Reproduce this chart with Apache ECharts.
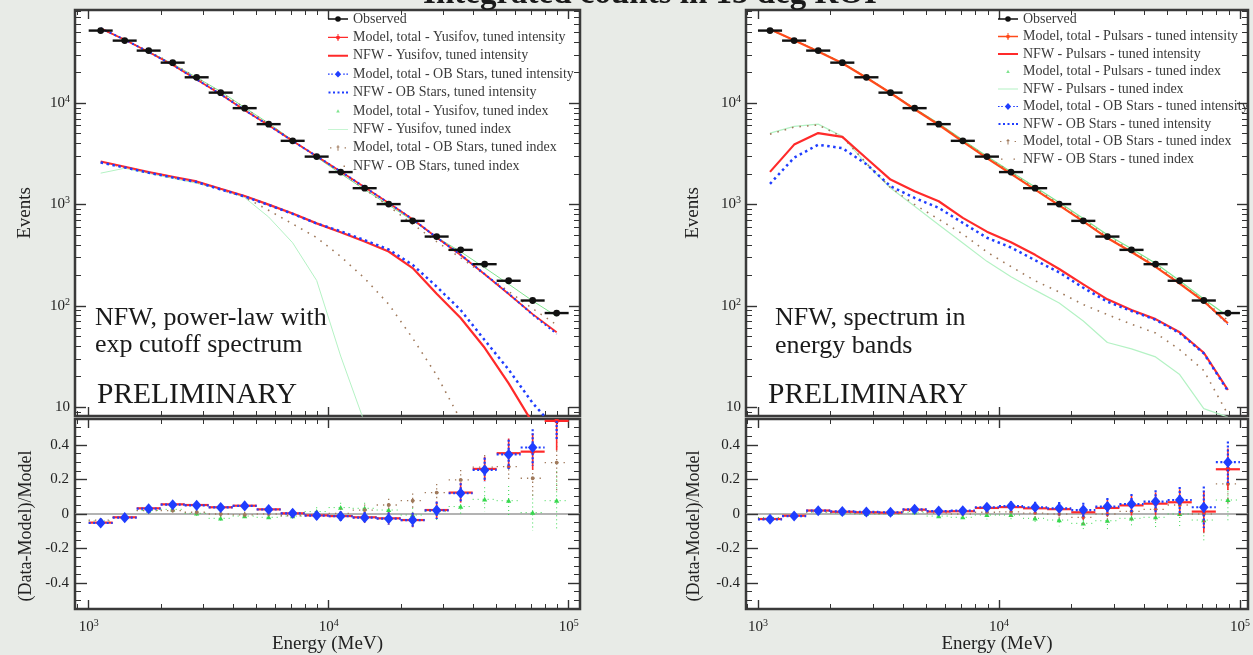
<!DOCTYPE html>
<html>
<head>
<meta charset="utf-8">
<script src="https://cdn.jsdelivr.net/npm/echarts@6.0.0/dist/echarts.min.js"></script>
<style>
html,body{margin:0;padding:0;background:#e8ebe7;}
#chart{width:1253px;height:655px;}
</style>
</head>
<body>
<div id="chart"></div>
<script>
// ---------------- data ----------------
const binEdges = [1000, 1259, 1585, 1995, 2512, 3162, 3981, 5012, 6310, 7943, 10000, 12589, 15849, 19953, 25119, 31623, 39811, 50119, 63096, 79433, 100000];
const binCenters = [1122, 1413, 1778, 2239, 2818, 3548, 4467, 5623, 7079, 8913, 11220, 14125, 17783, 22387, 28184, 35481, 44668, 56234, 70795, 89125];
const observed = [52000, 41400, 33000, 25100, 18000, 12700, 8930, 6210, 4250, 2970, 2090, 1450, 1010, 690, 483, 357, 258, 177, 113, 85];

// left panel: NFW, power-law with exp cutoff
const nfwYusInt = [2655, 2360, 2095, 1880, 1690, 1430, 1215, 998, 817, 652, 533, 431, 344, 236, 132, 76, 38.6, 17.2, 7, 3];
const nfwOBInt  = [2600, 2320, 2060, 1850, 1665, 1410, 1200, 990, 810, 650, 545, 445, 360, 254, 155, 91, 46, 23.5, 11, 6];
const nfwYusIdx = [2040, 2280, 2030, 1810, 1620, 1415, 1172, 753, 419, 178, 32, 7, null, null, null, null, null, null, null, null];
const nfwOBIdx  = [2600, 2330, 2070, 1850, 1660, 1400, 1180, 877, 644, 472, 307, 187, 104, 48, 20.7, 7.5, null, null, null, null];
const modYusInt = [54740, 42200, 31950, 23770, 17110, 12220, 8520, 6050, 4230, 2990, 2115, 1478, 1036, 715, 472, 318, 205, 131, 83, 55];
const modOBInt  = [54850, 42290, 32000, 23810, 17140, 12230, 8530, 6050, 4230, 2995, 2118, 1480, 1038, 715, 473, 319, 206, 132, 82, 53];
const modYusIdx = [54170, 42240, 32350, 24440, 17930, 13030, 9040, 6330, 4300, 2930, 2015, 1404, 987, 694, 476, 342, 238, 164, 112, 79];
const modOBIdx  = [53890, 42240, 32350, 24610, 17820, 12700, 8975, 6210, 4290, 2985, 2082, 1417, 960, 641, 430, 298, 203, 139, 94, 65];
const resYusInt = [-0.050, -0.019, 0.033, 0.056, 0.052, 0.039, 0.048, 0.027, 0.004, -0.008, -0.012, -0.019, -0.025, -0.035, 0.023, 0.124, 0.261, 0.352, 0.361, 0.539];
const resOBInt  = [-0.052, -0.021, 0.031, 0.054, 0.050, 0.038, 0.047, 0.026, 0.004, -0.009, -0.013, -0.021, -0.027, -0.035, 0.021, 0.120, 0.255, 0.345, 0.385, 0.60];
const resYusIdx = [-0.04, -0.02, 0.02, 0.027, 0.004, -0.025, -0.012, -0.019, -0.012, 0.014, 0.037, 0.033, 0.023, -0.006, 0.014, 0.043, 0.085, 0.077, 0.008, 0.077];
const resOBIdx  = [-0.035, -0.02, 0.02, 0.02, 0.01, 0.0, -0.005, 0.0, -0.01, -0.005, 0.004, 0.023, 0.052, 0.077, 0.124, 0.197, 0.271, 0.274, 0.207, 0.298];
const errLeft   = [0.012, 0.012, 0.013, 0.014, 0.015, 0.016, 0.018, 0.02, 0.022, 0.025, 0.028, 0.032, 0.036, 0.042, 0.05, 0.058, 0.07, 0.085, 0.105, 0.17];

// right panel: NFW, spectrum in energy bands
const nfwPulInt  = [2100, 3900, 5070, 4650, 2860, 1762, 1352, 1077, 738, 540, 424, 319, 231, 163, 116, 91, 74, 55, 34.5, 14.8];
const nfwOBIntR  = [1600, 2900, 3890, 3600, 2500, 1514, 1162, 927, 659, 470, 377, 282, 214, 151, 110, 89, 73, 54, 34, 14.5];
const nfwPulIdx  = [5070, 5900, 6210, 4700, 2520, 1457, 961, 631, 418, 275, 194, 143, 107, 71, 43.5, 37.7, 31.4, 21, 9.7, 8];
const nfwOBIdxR  = [4950, 5800, 6100, 4650, 2560, 1470, 1000, 716, 511, 340, 244, 177, 137, 103, 82, 66, 54, 37, 23, 8.5];
const modPulInt  = [53550, 41820, 32350, 24780, 17820, 12600, 8710, 6125, 4183, 2870, 2010, 1404, 982, 683, 467, 340, 243, 166, 111, 67.5];
const modOBIntR  = [53660, 41900, 32380, 24730, 17790, 12570, 8700, 6105, 4170, 2860, 1998, 1396, 978, 675, 463, 337, 241, 164, 109, 65];
const modPulIdx  = [53060, 41820, 32670, 24980, 18000, 12700, 8840, 6285, 4332, 2988, 2103, 1487, 1047, 729, 503, 366, 263, 177, 117, 79];
const modOBIdxR  = [53330, 41820, 32610, 24900, 17910, 12660, 8800, 6180, 4250, 2940, 2065, 1443, 1010, 703, 483, 352, 253, 168, 113, 72];
const resPulInt  = [-0.029, -0.010, 0.020, 0.013, 0.010, 0.008, 0.025, 0.014, 0.016, 0.035, 0.040, 0.033, 0.028, 0.010, 0.035, 0.050, 0.060, 0.068, 0.014, 0.259];
const resOBIntR  = [-0.031, -0.012, 0.019, 0.015, 0.012, 0.010, 0.027, 0.017, 0.019, 0.039, 0.046, 0.039, 0.033, 0.023, 0.043, 0.058, 0.072, 0.081, 0.039, 0.300];
const resPulIdx  = [-0.02, -0.01, 0.01, 0.005, 0.0, 0.0, 0.01, -0.012, -0.019, -0.006, -0.006, -0.025, -0.035, -0.054, -0.039, -0.025, -0.019, 0.0, -0.035, 0.081];
const resOBIdxR  = [-0.025, -0.01, 0.012, 0.008, 0.005, 0.003, 0.015, 0.005, 0.0, 0.01, 0.012, 0.005, 0.0, -0.019, 0.0, 0.015, 0.027, 0.052, 0.0, 0.174];
const errRight   = [0.012, 0.012, 0.013, 0.014, 0.015, 0.016, 0.018, 0.02, 0.022, 0.025, 0.028, 0.032, 0.036, 0.042, 0.05, 0.058, 0.065, 0.075, 0.12, 0.12];

// tick values
const xMajor = [1000, 10000, 100000];
const xMinor = [900, 2000, 3000, 4000, 5000, 6000, 7000, 8000, 9000, 20000, 30000, 40000, 50000, 60000, 70000, 80000, 90000];
const yMajorTop = [10, 100, 1000, 10000];
const yMinorTop = [9, 20, 30, 40, 50, 60, 70, 80, 90, 200, 300, 400, 500, 600, 700, 800, 900, 2000, 3000, 4000, 5000, 6000, 7000, 8000, 9000, 20000, 30000, 40000, 50000, 60000, 70000, 80000];
const resMajor = [-0.4, -0.2, 0, 0.2, 0.4];
const resMinor = [-0.5, -0.45, -0.35, -0.3, -0.25, -0.15, -0.1, -0.05, 0.05, 0.1, 0.15, 0.25, 0.3, 0.35, 0.45, 0.5];
const zeroLine = [0];

// legend names
const namesLeft = ['Observed', 'Model, total - Yusifov, tuned intensity', 'NFW - Yusifov, tuned intensity',
  'Model, total - OB Stars, tuned intensity', 'NFW - OB Stars, tuned intensity', 'Model, total - Yusifov, tuned index',
  'NFW - Yusifov, tuned index', 'Model, total - OB Stars, tuned index', 'NFW - OB Stars, tuned index'];
const namesRight = ['Observed', 'Model, total - Pulsars - tuned intensity', 'NFW - Pulsars - tuned intensity',
  'Model, total - Pulsars - tuned index', 'NFW - Pulsars - tuned index', 'Model, total - OB Stars - tuned intensity',
  'NFW - OB Stars - tuned intensity', 'Model, total - OB Stars - tuned index', 'NFW - OB Stars - tuned index'];

// ---------------- styling ----------------
const FONT = "'Liberation Serif','Times New Roman',serif";
const RED = '#ff2a2a', BLUE = '#1f3dff', GREEN = '#35d84c', LGREEN = '#b4f2c4', MGREEN = '#7fe48e', BROWN = '#a07a5c', BLACK = '#111111';
const RICH = {s: {fontSize: 10, lineHeight: 10, verticalAlign: 'top', fontFamily: FONT, color: '#222'}};
const labelFont = {fontFamily: FONT, fontSize: 15, color: '#222', lineHeight: 18, rich: RICH};
const nameFont = {fontFamily: FONT, fontSize: 19, color: '#222'};
function powLabel(v) { const e = Math.round(Math.log10(v)); return e === 1 ? '10' : '10{s|' + e + '}'; }
function resLabel(v) { return Math.abs(v) < 1e-9 ? '0' : v.toFixed(1); }
function tick(len, vals, w) { return {show: true, inside: true, length: len, customValues: vals, lineStyle: {color: '#333', width: w}}; }

const xAxis = [], yAxis = [];
function makeX(gi, min, max, withLabels) {
  const idx = xAxis.length;
  const base = {type: 'log', logBase: 10, gridIndex: gi, min: min, max: max, axisLine: {show: false, onZero: false}, splitLine: {show: false}};
  xAxis.push(Object.assign({}, base, {position: 'bottom', axisTick: tick(9, xMajor, 1.4),
    axisLabel: withLabels ? Object.assign({show: true, customValues: xMajor, formatter: powLabel, margin: 9}, labelFont) : {show: false},
    name: withLabels ? 'Energy (MeV)' : '', nameLocation: 'middle', nameGap: 26, nameTextStyle: nameFont, nameMoveOverlap: false}));
  xAxis.push(Object.assign({}, base, {position: 'bottom', axisTick: tick(5, xMinor, 1), axisLabel: {show: false}}));
  xAxis.push(Object.assign({}, base, {position: 'top', axisTick: tick(9, xMajor, 1.4), axisLabel: {show: false}}));
  xAxis.push(Object.assign({}, base, {position: 'top', axisTick: tick(5, xMinor, 1), axisLabel: {show: false}}));
  return idx;
}
function makeYLog(gi, gap) {
  const idx = yAxis.length;
  const base = {type: 'log', logBase: 10, gridIndex: gi, min: 8.2, max: 83000, axisLine: {show: false, onZero: false}, splitLine: {show: false}};
  yAxis.push(Object.assign({}, base, {position: 'left', axisTick: tick(11, yMajorTop, 1.4),
    axisLabel: Object.assign({show: true, customValues: yMajorTop, formatter: powLabel, margin: 5}, labelFont),
    name: 'Events', nameLocation: 'middle', nameRotate: 90, nameGap: gap, nameTextStyle: nameFont, nameMoveOverlap: false}));
  yAxis.push(Object.assign({}, base, {position: 'left', axisTick: tick(6, yMinorTop, 1), axisLabel: {show: false}}));
  yAxis.push(Object.assign({}, base, {position: 'right', axisTick: tick(11, yMajorTop, 1.4), axisLabel: {show: false}}));
  yAxis.push(Object.assign({}, base, {position: 'right', axisTick: tick(6, yMinorTop, 1), axisLabel: {show: false}}));
  return idx;
}
function makeYRes(gi, gap) {
  const idx = yAxis.length;
  const base = {type: 'value', gridIndex: gi, min: -0.55, max: 0.55, axisLine: {show: false, onZero: false}, splitLine: {show: false}};
  yAxis.push(Object.assign({}, base, {position: 'left', axisTick: tick(12, resMajor, 1.4),
    axisLabel: Object.assign({show: true, customValues: resMajor, formatter: resLabel, margin: 6}, labelFont),
    name: '(Data-Model)/Model', nameLocation: 'middle', nameRotate: 90, nameGap: gap,
    nameTextStyle: Object.assign({}, nameFont, {fontSize: 18, padding: [0, 24, 0, 0]}), nameMoveOverlap: false}));
  yAxis.push(Object.assign({}, base, {position: 'left', axisTick: tick(6, resMinor, 1), axisLabel: {show: false}}));
  yAxis.push(Object.assign({}, base, {position: 'right', axisTick: tick(12, resMajor, 1.4), axisLabel: {show: false}}));
  yAxis.push(Object.assign({}, base, {position: 'right', axisTick: tick(6, resMinor, 1), axisLabel: {show: false}}));
  yAxis.push(Object.assign({}, base, {position: 'left', axisTick: {show: false, customValues: zeroLine},
    axisLabel: {show: false}, splitLine: {show: true, lineStyle: {color: '#9a9a9a', width: 1.5}}}));
  return idx;
}

const gridBase = {show: true, backgroundColor: '#ffffff', borderColor: '#3a3a3a', borderWidth: 2.5, containLabel: false, outerBoundsMode: 'none'};
const grid = [
  Object.assign({left: 75, top: 10, width: 505, height: 406}, gridBase),
  Object.assign({left: 75, top: 419, width: 505, height: 190}, gridBase),
  Object.assign({left: 746, top: 10, width: 502, height: 406}, gridBase),
  Object.assign({left: 746, top: 419, width: 502, height: 190}, gridBase)
];
const xTL = makeX(0, 877, 111500, false), xBL = makeX(1, 877, 111500, true);
const xTR = makeX(2, 892, 108000, false), xBR = makeX(3, 892, 108000, true);
const yTL = makeYLog(0, 40), yBL = makeYRes(1, 40);
const yTR = makeYLog(2, 43), yBR = makeYRes(3, 43);

// ---------------- renderers ----------------
function obsRender(params, api) {
  const y = api.value(3);
  const a = api.coord([api.value(0), y]), b = api.coord([api.value(1), y]), c = api.coord([api.value(2), y]);
  return {type: 'group', children: [
    {type: 'line', shape: {x1: a[0], y1: c[1], x2: b[0], y2: c[1]}, style: {stroke: BLACK, lineWidth: 2.4}},
    {type: 'circle', shape: {cx: c[0], cy: c[1], r: 3.4}, style: {fill: BLACK}}
  ]};
}
const RES_STYLE = {
  red:   {hw: 2.2, hd: null, vw: 1.6, vd: null, mark: 'circle', size: 2.4},
  blue:  {hw: 2.2, hd: [2, 2.5], vw: 2.2, vd: [2, 2], mark: 'diamond', size: 4.8},
  green: {hw: 1, hd: [1, 4], vw: 1, vd: [1, 3], mark: 'triangle', size: 2.6},
  brown: {hw: 1.3, hd: [1.3, 5], vw: 1.3, vd: [1.3, 3], mark: 'circle', size: 1.9}
};
function resRender(kind) {
  const st = RES_STYLE[kind];
  return function (params, api) {
    const v = api.value(3), e = api.value(4), cx = api.value(2);
    const a = api.coord([api.value(0), v]), b = api.coord([api.value(1), v]), c = api.coord([cx, v]);
    const t = api.coord([cx, v + e]), d = api.coord([cx, v - e]);
    const color = api.visual('color');
    const ch = [
      {type: 'line', shape: {x1: a[0], y1: c[1], x2: b[0], y2: c[1]}, style: {stroke: color, lineWidth: st.hw, lineDash: st.hd}},
      {type: 'line', shape: {x1: c[0], y1: t[1], x2: c[0], y2: d[1]}, style: {stroke: color, lineWidth: st.vw, lineDash: st.vd}}
    ];
    const s = st.size;
    if (st.mark === 'circle') ch.push({type: 'circle', shape: {cx: c[0], cy: c[1], r: s}, style: {fill: color}});
    else if (st.mark === 'diamond') ch.push({type: 'polygon', shape: {points: [[c[0], c[1] - s * 1.15], [c[0] + s, c[1]], [c[0], c[1] + s * 1.15], [c[0] - s, c[1]]]}, style: {fill: color}});
    else ch.push({type: 'polygon', shape: {points: [[c[0], c[1] - s], [c[0] + s, c[1] + s * 0.8], [c[0] - s, c[1] + s * 0.8]]}, style: {fill: color}});
    return {type: 'group', children: ch};
  };
}

// ---------------- series builders ----------------
function lineS(name, xi, yi, vals, color, width, dash, z) {
  return {type: 'line', name: name, xAxisIndex: xi, yAxisIndex: yi, color: color,
    data: binCenters.map(function (c, i) { return [c, vals[i]]; }),
    symbol: 'none', showSymbol: false, connectNulls: false, clip: true, silent: true, z: z,
    lineStyle: {color: color, width: width, type: dash || 'solid', cap: 'butt'}};
}
function obsS(xi, yi) {
  return {type: 'custom', name: 'Observed', xAxisIndex: xi, yAxisIndex: yi, color: BLACK, clip: true, silent: true, z: 10,
    data: observed.map(function (v, i) { return [binEdges[i], binEdges[i + 1], binCenters[i], v]; }),
    encode: {x: [0, 1, 2], y: 3}, renderItem: obsRender};
}
function resS(name, xi, yi, vals, err, color, kind, z) {
  return {type: 'custom', name: name, xAxisIndex: xi, yAxisIndex: yi, color: color, clip: true, silent: true, z: z,
    data: vals.map(function (v, i) { return [binEdges[i], binEdges[i + 1], binCenters[i], v, err[i]]; }),
    encode: {x: [0, 1, 2], y: 3}, renderItem: resRender(kind)};
}

const series = [
  // top left
  lineS(namesLeft[6], xTL, yTL, nfwYusIdx, LGREEN, 1, null, 2),
  lineS(namesLeft[8], xTL, yTL, nfwOBIdx, BROWN, 1.6, [1.6, 6], 3),
  lineS(namesLeft[2], xTL, yTL, nfwYusInt, RED, 2.2, null, 4),
  lineS(namesLeft[4], xTL, yTL, nfwOBInt, BLUE, 2.5, [2.5, 3.5], 5),
  lineS(namesLeft[5], xTL, yTL, modYusIdx, MGREEN, 1, null, 6),
  lineS(namesLeft[7], xTL, yTL, modOBIdx, BROWN, 1.5, [1.5, 6], 6),
  lineS(namesLeft[1], xTL, yTL, modYusInt, RED, 1.8, null, 7),
  lineS(namesLeft[3], xTL, yTL, modOBInt, BLUE, 2, [2, 3], 8),
  obsS(xTL, yTL),
  // top right
  lineS(namesRight[4], xTR, yTR, nfwPulIdx, LGREEN, 1.2, null, 2),
  lineS(namesRight[8], xTR, yTR, nfwOBIdxR, BROWN, 1.6, [1.6, 6], 3),
  lineS(namesRight[2], xTR, yTR, nfwPulInt, RED, 2.2, null, 4),
  lineS(namesRight[6], xTR, yTR, nfwOBIntR, BLUE, 2.5, [2.5, 3.5], 5),
  lineS(namesRight[5], xTR, yTR, modOBIntR, BLUE, 1, [2, 3], 6),
  lineS(namesRight[3], xTR, yTR, modPulIdx, MGREEN, 1.2, null, 6),
  lineS(namesRight[7], xTR, yTR, modOBIdxR, BROWN, 1.5, [1.5, 6], 6),
  lineS(namesRight[1], xTR, yTR, modPulInt, '#ff4a1a', 2.2, null, 7),
  obsS(xTR, yTR),
  // bottom left residuals
  resS(namesLeft[5], xBL, yBL, resYusIdx, errLeft, GREEN, 'green', 3),
  resS(namesLeft[7], xBL, yBL, resOBIdx, errLeft, BROWN, 'brown', 4),
  resS(namesLeft[1], xBL, yBL, resYusInt, errLeft, RED, 'red', 5),
  resS(namesLeft[3], xBL, yBL, resOBInt, errLeft, BLUE, 'blue', 6),
  // bottom right residuals
  resS(namesRight[3], xBR, yBR, resPulIdx, errRight, GREEN, 'green', 3),
  resS(namesRight[7], xBR, yBR, resOBIdxR, errRight, BROWN, 'brown', 4),
  resS(namesRight[1], xBR, yBR, resPulInt, errRight, RED, 'red', 5),
  resS(namesRight[5], xBR, yBR, resOBIntR, errRight, BLUE, 'blue', 6)
];

// ---------------- legend icons ----------------
const C = 'M0,0h0.01v0.01h-0.01z M19.99,7.99h0.01v0.01h-0.01z ';
const icObs = 'path://' + C + 'M0,3.2h20v1.6h-20z M7.2,4a2.8,2.8 0 1,1 5.6,0a2.8,2.8 0 1,1 -5.6,0z';
const icRedModel = 'path://' + C + 'M0,3.3h20v1.4h-20z M9.5,0.5h1v7h-1z M10,1.2L12.6,4L10,6.8L7.4,4z';
const icRedLine = 'path://' + C + 'M0,3h20v2h-20z';
const icBlueModel = 'path://' + C + 'M0,3.4h1.6v1.2h-1.6z M3.2,3.4h1.6v1.2h-1.6z M15.2,3.4h1.6v1.2h-1.6z M18.4,3.4h1.6v1.2h-1.6z M10,0.6L13.2,4L10,7.4L6.8,4z';
const icBlueLine = 'path://' + C + 'M0.5,3h2v2h-2z M5,3h2v2h-2z M9.5,3h2v2h-2z M14,3h2v2h-2z M18,3h2v2h-2z';
const icGreenModel = 'path://' + C + 'M10,2.2L11.8,5.6L8.2,5.6z';
const icGreenLine = 'path://' + C + 'M0,3.6h20v0.8h-20z';
const icBrownModel = 'path://' + C + 'M2,3.4h1.4v1.2h-1.4z M16.6,3.4h1.4v1.2h-1.4z M9.5,1.5h1v5.5h-1z M8.6,2.6h2.8v1.2h-2.8z';
const icBrownLine = 'path://' + C + 'M3,3.4h1.5v1.3h-1.5z M15.5,3.4h1.5v1.3h-1.5z';
const iconsLeft = [icObs, icRedModel, icRedLine, icBlueModel, icBlueLine, icGreenModel, icGreenLine, icBrownModel, icBrownLine];
const iconsRight = [icObs, icRedModel, icRedLine, icGreenModel, icGreenLine, icBlueModel, icBlueLine, icBrownModel, icBrownLine];
const legendBase = {orient: 'vertical', itemWidth: 20, itemHeight: 8, padding: 0, selectedMode: false,
  itemStyle: {borderWidth: 0}, textStyle: {fontFamily: FONT, fontSize: 14, color: '#3a3a3a', lineHeight: 14}};
const legend = [
  Object.assign({left: 328, top: 12, itemGap: 4.4, data: namesLeft.map(function (n, i) { return {name: n, icon: iconsLeft[i]}; })}, legendBase),
  Object.assign({left: 998, top: 12, itemGap: 3.5, data: namesRight.map(function (n, i) { return {name: n, icon: iconsRight[i]}; })}, legendBase)
];

function txt(x, y, text, size, bold) {
  return {type: 'text', x: x, y: y, z: 50, silent: true,
    style: {text: text, font: (bold ? 'bold ' : '') + size + 'px ' + FONT, fill: '#1a1a1a', align: 'left', verticalAlign: 'middle'}};
}
const graphic = [
  {type: 'text', x: 650, y: -6, z: 50, silent: true,
   style: {text: 'Integrated counts in 15 deg ROI', font: 'bold 33px ' + FONT, fill: '#1a1a1a', align: 'center', verticalAlign: 'middle'}},
  txt(95, 318, 'NFW, power-law with', 26),
  txt(95, 345, 'exp cutoff spectrum', 26),
  txt(97, 395.5, 'PRELIMINARY', 29.5),
  txt(775, 318, 'NFW, spectrum in', 26),
  txt(775, 346, 'energy bands', 26),
  txt(768, 395.5, 'PRELIMINARY', 29.5)
];

const chart = echarts.init(document.getElementById('chart'), null, {renderer: 'canvas'});
chart.setOption({
  backgroundColor: '#e8ebe7',
  animation: false,
  grid: grid,
  xAxis: xAxis,
  yAxis: yAxis,
  legend: legend,
  graphic: graphic,
  series: series
});
</script>
</body>
</html>
